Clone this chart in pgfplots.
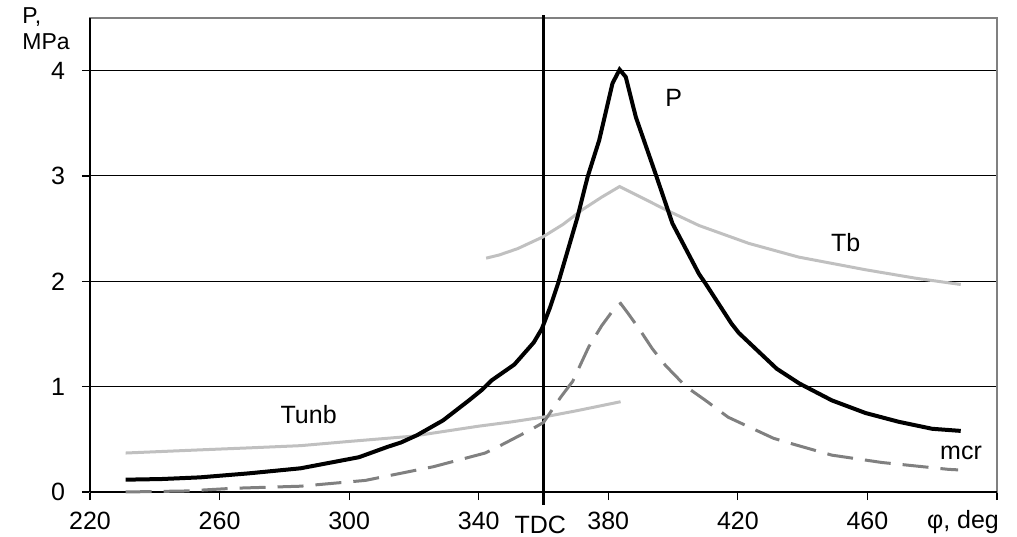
\documentclass[border=0pt]{standalone}
\usepackage{pgfplots}
\pgfplotsset{compat=1.18}
\usepackage{fontspec}
\setmainfont{Liberation Sans}
\definecolor{lgray}{RGB}{192,192,192}
\definecolor{dgray}{RGB}{128,128,128}
\newcommand{\lblfont}{\fontsize{12.5bp}{14bp}\selectfont}
\begin{document}
\begin{tikzpicture}
\begin{axis}[
  scale only axis, width=453.5bp, height=237bp,
  xmin=220, xmax=500, ymin=0, ymax=4.5,
  xtick={220,260,300,340,380,420,460,500},
  xticklabels={220,260,300,340,380,420,460,{}},
  ytick={0,1,2,3,4},
  xtick pos=lower, ytick pos=left,
  tick align=outside, major tick length=4bp,
  tick style={black, line width=0.6bp},
  ymajorgrids, grid style={black, line width=0.5bp},
  axis line style={dgray, line width=0.6bp},
  /pgf/number format/assume math mode=true,
  tick label style={font=\lblfont},
  xticklabel style={anchor=base, yshift=-14.5bp},
  yticklabel style={anchor=east, xshift=-5bp},
  clip=false,
]
\draw[black, line width=0.7bp] (rel axis cs:0,0) -- (rel axis cs:0,1);
\draw[black, line width=0.7bp] (rel axis cs:0,0) -- (rel axis cs:1,0);
% TDC line
\addplot[black, line width=1.1bp] coordinates {(360,-0.123) (360,4.53)};
% Tunb
\addplot[lgray, line width=1.5bp] coordinates {
(231,0.37) (254,0.40) (270,0.42) (285,0.44) (300,0.48) (319.6,0.53)
(340,0.625) (350,0.665) (359.7,0.71) (370,0.77) (383.8,0.857)};
% Tb
\addplot[lgray, line width=1.5bp] coordinates {
(342.3,2.22) (346.3,2.25) (352,2.31) (359.7,2.42) (366,2.54) (372,2.68)
(378,2.80) (383.5,2.90) (390,2.80) (397.7,2.68) (408,2.53) (423.4,2.36)
(438.8,2.23) (459.4,2.11) (474.8,2.03) (488.8,1.97)};
% mcr
\addplot[dgray, line width=1.5bp, dash pattern=on 13bp off 6bp] coordinates {
(231,0.0) (250,0.01) (264,0.035) (285,0.055) (305,0.11) (326,0.24)
(342,0.37) (346,0.43) (356,0.59) (360,0.66) (365.3,0.90) (369,1.05)
(374,1.38) (378,1.58) (382.3,1.76) (383.8,1.79) (386,1.70) (389.5,1.55)
(393.6,1.36) (397.7,1.20) (404,1.00) (410,0.87) (417,0.71) (431,0.51)
(437,0.455) (449,0.35) (464.5,0.28) (485,0.215) (488,0.21)};
% P
\addplot[black, line width=2bp] coordinates {
(231,0.117) (242,0.123) (254,0.139) (269,0.177) (285,0.225) (303,0.33)
(312,0.43) (316,0.47) (321,0.54) (329,0.68) (337,0.87) (341,0.97)
(344,1.06) (351,1.21) (357,1.42) (359.5,1.55) (362,1.75) (364.5,1.98)
(370.5,2.61) (373.6,2.99) (377.2,3.34) (381.3,3.88) (383.5,4.01)
(385.4,3.94) (388.5,3.56) (394.6,3.02) (399.8,2.55) (408,2.07)
(410,1.98) (418,1.60) (420.3,1.51) (432,1.17) (439,1.03) (449,0.87)
(459.4,0.75) (469.6,0.667) (480,0.60) (488.8,0.58)};
% labels
\node[anchor=base, font=\lblfont, inner sep=0pt] at (axis cs:400.2,3.656) {P};
\node[anchor=base, font=\lblfont, inner sep=0pt] at (axis cs:453.3,2.28) {Tb};
\node[anchor=base, font=\lblfont, inner sep=0pt] at (axis cs:287.5,0.652) {Tunb};
\node[anchor=base, font=\lblfont, inner sep=0pt] at (axis cs:488.9,0.304) {mcr};
\node[anchor=base, font=\lblfont, inner sep=0pt, yshift=-20.5bp] at (axis cs:359,0) {TDC};
\node[anchor=base west, font=\lblfont, inner sep=0pt, yshift=-18bp] at (axis cs:478.3,0) {φ, deg};
\node[anchor=north west, align=left, font=\fontsize{11.5bp}{13bp}\selectfont, inner sep=0pt] at ([shift={(-34bp,5.5bp)}]rel axis cs:0,1) {P,\\MPa};
\end{axis}
\path ([shift={(-45bp,-22.5bp)}]current axis.south west) rectangle ([shift={(10bp,9bp)}]current axis.north east);
\end{tikzpicture}
\end{document}
